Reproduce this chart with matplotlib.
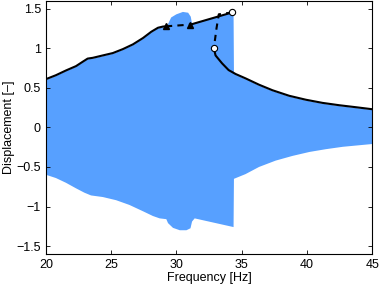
import matplotlib
matplotlib.use("Agg")
import matplotlib.pyplot as plt

plt.rcParams['font.family'] = ['Liberation Sans', 'DejaVu Sans']

# stable upper branch (solid)
up_f = [20.0, 20.77, 21.54, 22.31, 22.82, 23.2, 23.6, 24.36, 25.13, 25.9, 26.67, 27.44, 28.08, 28.59, 28.97, 29.2]
up_a = [0.61, 0.66, 0.72, 0.775, 0.83, 0.87, 0.88, 0.91, 0.94, 0.99, 1.05, 1.13, 1.21, 1.26, 1.275, 1.278]
# continuation after the jump
up2_f = [31.08, 34.28]
up2_a = [1.30, 1.454]
# unstable branches (dashed)
dash1_f = [29.2, 31.08]
dash1_a = [1.278, 1.30]
dash2_f = [34.28, 33.25, 33.08, 32.87]
dash2_a = [1.454, 1.43, 1.26, 1.0]
# lower stable branch
lo_f = [32.87, 33.0, 33.5, 34.0, 34.54, 35.3, 36.33, 37.36, 38.64, 39.92, 41.2, 42.5, 43.77, 45.0]
lo_a = [1.0, 0.91, 0.81, 0.725, 0.675, 0.62, 0.54, 0.47, 0.40, 0.35, 0.31, 0.28, 0.255, 0.23]
# bifurcation points
tri_f = [29.2, 31.08]
tri_a = [1.278, 1.30]
circ_f = [34.28, 32.87]
circ_a = [1.454, 1.0]

# time-domain sweep envelope
env_top_f = [20.0, 20.03, 20.77, 21.54, 22.31, 22.82, 23.2, 23.6, 24.36, 25.13, 25.9, 26.67, 27.44, 28.08,
             28.59, 28.97, 29.25, 29.4, 29.6, 30.0, 30.5, 30.9, 31.1, 31.2, 34.38, 34.41, 34.54, 35.3,
             36.33, 37.36, 38.64, 39.92, 41.2, 42.5, 43.77, 45.0]
env_top_a = [0.82, 0.60, 0.65, 0.71, 0.765, 0.82, 0.86, 0.87, 0.90, 0.93, 0.98, 1.04, 1.12, 1.20,
             1.25, 1.265, 1.27, 1.32, 1.39, 1.43, 1.46, 1.45, 1.40, 1.31, 1.45, 0.70, 0.665, 0.61,
             0.53, 0.46, 0.39, 0.34, 0.30, 0.27, 0.245, 0.22]
env_bot_f = [20.0, 20.03, 20.77, 21.54, 22.31, 22.95, 23.46, 24.36, 25.38, 26.4, 27.44, 28.2, 28.72,
             29.23, 29.36, 29.74, 30.26, 30.77, 31.08, 31.2, 31.4, 34.38, 34.41, 35.3, 36.33, 37.6,
             38.9, 40.2, 41.46, 42.75, 45.0]
env_bot_a = [-0.78, -0.60, -0.64, -0.70, -0.77, -0.825, -0.86, -0.88, -0.92, -0.98, -1.06, -1.12, -1.15,
             -1.16, -1.21, -1.27, -1.30, -1.30, -1.275, -1.19, -1.15, -1.26, -0.65, -0.59, -0.50, -0.42,
             -0.36, -0.31, -0.275, -0.245, -0.21]

fig = plt.figure(figsize=(3.79, 2.86), dpi=100)
ax = fig.add_axes([0.121, 0.112, 0.861, 0.885])

ax.fill(env_top_f + env_bot_f[::-1], env_top_a + env_bot_a[::-1], color='#57a0ff', lw=0)

ax.plot(up_f, up_a, 'k-', lw=1.5, solid_joinstyle='round')
ax.plot(up2_f, up2_a, 'k-', lw=1.5)
ax.plot(lo_f, lo_a, 'k-', lw=1.5, solid_joinstyle='round')
ax.plot(dash1_f, dash1_a, 'k--', lw=1.5, dashes=(3, 2.5))
ax.plot(dash2_f, dash2_a, 'k--', lw=1.5, dashes=(3, 2.5))
ax.plot(tri_f, tri_a, 'k^', ms=4, ls='none')
ax.plot(circ_f, circ_a, 'o', mfc='white', mec='black', mew=0.8, ms=4.5, ls='none')

ax.set_xlim(20, 45)
ax.set_ylim(-1.6, 1.6)
ax.set_xticks([20, 25, 30, 35, 40, 45])
ax.set_yticks([-1.5, -1, -0.5, 0, 0.5, 1, 1.5])
ax.set_yticklabels(['\u22121.5', '\u22121', '\u22120.5', '0', '0.5', '1', '1.5'])
ax.tick_params(direction='in', top=True, right=True, length=3, width=0.6, labelsize=9)
for s in ax.spines.values():
    s.set_linewidth(0.8)
ax.set_xlabel('Frequency [Hz]', fontsize=9, labelpad=1)
ax.set_ylabel('Displacement [\u2013]', fontsize=9, labelpad=1)

fig.savefig('out.png', dpi=100)
